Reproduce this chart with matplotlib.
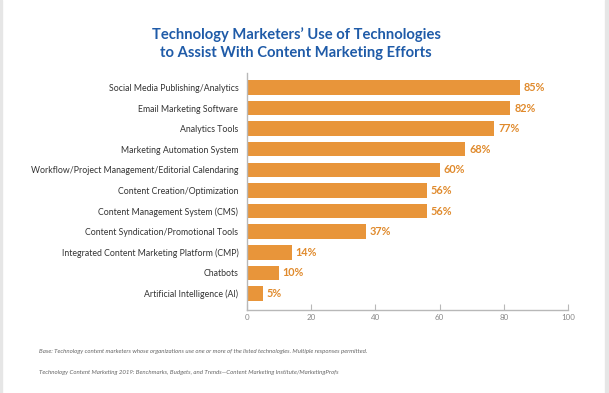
import matplotlib
matplotlib.use("Agg")
import matplotlib.pyplot as plt
from matplotlib.patches import Rectangle

# chart data
categories = [
    "Social Media Publishing/Analytics",
    "Email Marketing Software",
    "Analytics Tools",
    "Marketing Automation System",
    "Workflow/Project Management/Editorial Calendaring",
    "Content Creation/Optimization",
    "Content Management System (CMS)",
    "Content Syndication/Promotional Tools",
    "Integrated Content Marketing Platform (CMP)",
    "Chatbots",
    "Artificial Intelligence (AI)",
]
values = [85, 82, 77, 68, 60, 56, 56, 37, 14, 10, 5]
x_ticks = [0, 20, 40, 60, 80, 100]

title_lines = ["Technology Marketers\u2019 Use of Technologies",
               "to Assist With Content Marketing Efforts"]
note_base = ("Base: Technology content marketers whose organizations use one or more "
             "of the listed technologies. Multiple responses permitted.")
note_source = ("Technology Content Marketing 2019: Benchmarks, Budgets, and Trends\u2014"
               "Content Marketing Institute/MarketingProfs")

BLUE = "#1f5ba8"
ORANGE = "#e8953a"
LABEL_ORANGE = "#e08a2c"
AXIS_GRAY = "#b8b8b8"

plt.rcParams['font.family'] = ['Lato', 'DejaVu Sans']

fig = plt.figure(figsize=(6.09, 3.93), dpi=100)
fig.patch.set_facecolor("white")

# thin gray frame strips at the image edges
fig.patches.append(Rectangle((0, 0), 0.003, 1, transform=fig.transFigure,
                             color="#e6e6e6", zorder=0))
fig.patches.append(Rectangle((0.993, 0), 0.007, 1, transform=fig.transFigure,
                             color="#e6e6e6", zorder=0))

ax = fig.add_axes([0.405, 0.2112, 0.528, 0.603])

ypos = list(range(len(categories)))
ax.barh(ypos, values, height=0.70, color=ORANGE, zorder=2)
ax.set_ylim(len(categories) - 0.2, -0.7)
ax.set_xlim(0, 100)

for y, v in zip(ypos, values):
    ax.text(v + 1.2, y, f"{v}%", va="center", ha="left",
            fontsize=7.8, fontweight="bold", color=LABEL_ORANGE)

ax.set_yticks(ypos)
ax.set_yticklabels(categories, fontsize=6.3, color="#333333")
ax.tick_params(axis="y", length=0, pad=6.0)

ax.set_xticks(x_ticks)
ax.set_xticklabels([str(t) for t in x_ticks], fontsize=5.8, color="#888888")
ax.tick_params(axis="x", direction="in", length=4, width=0.8,
               color=AXIS_GRAY, pad=3)

for side in ["top", "right"]:
    ax.spines[side].set_visible(False)
for side in ["left", "bottom"]:
    ax.spines[side].set_color(AXIS_GRAY)
    ax.spines[side].set_linewidth(1.0)

fig.text(0.486, 0.9008, title_lines[0], ha="center", va="baseline",
         fontsize=10.6, fontweight="bold", color=BLUE)
fig.text(0.486, 0.8557, title_lines[1], ha="center", va="baseline",
         fontsize=10.6, fontweight="bold", color=BLUE)

fig.text(0.064, 0.105, note_base, ha="left", va="center", fontsize=4.45,
         style="italic", color="#666666")
fig.text(0.064, 0.053, note_source, ha="left", va="center", fontsize=4.45,
         style="italic", color="#666666")

fig.savefig("out.png", dpi=100)
